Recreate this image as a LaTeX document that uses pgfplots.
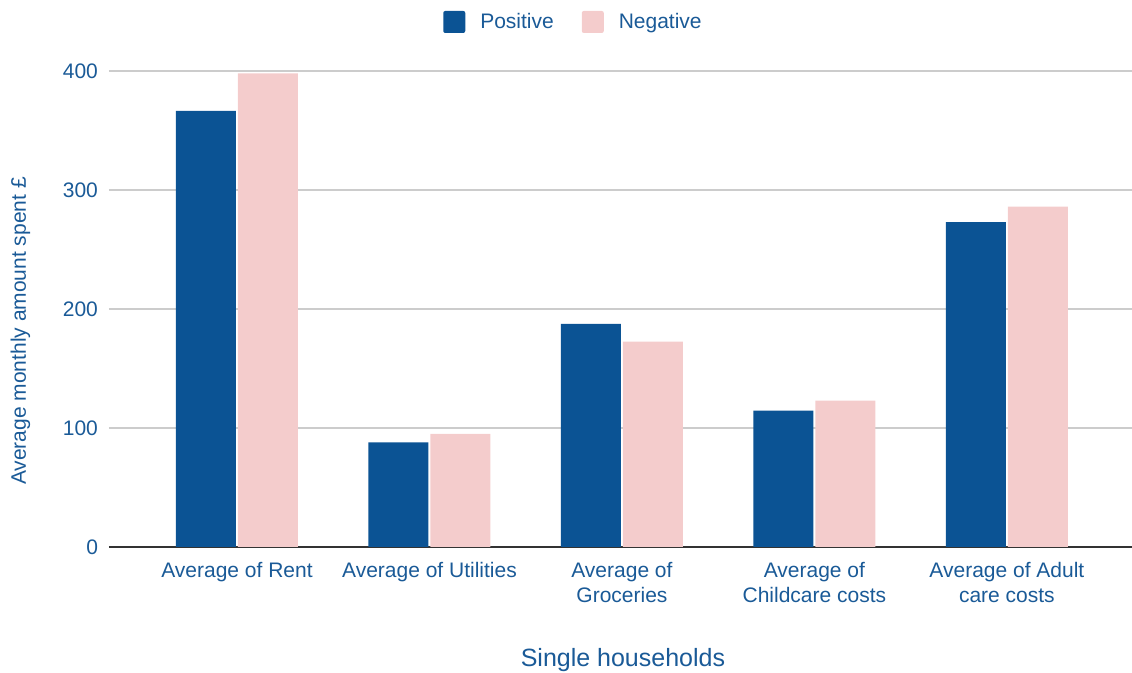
\documentclass[border=0pt]{standalone}
\usepackage{fontspec}
\setmainfont{Liberation Sans}
\usepackage{pgfplots}
\pgfplotsset{compat=1.18}

\definecolor{posblue}{HTML}{0B5394}
\definecolor{negpink}{HTML}{F4CCCC}
\definecolor{txtblue}{HTML}{1A5A97}
\definecolor{gridgrey}{HTML}{CCCCCC}
\definecolor{basegrey}{HTML}{333333}

\begin{document}
\begin{tikzpicture}
\useasboundingbox (0,0) rectangle (566pt,336.5pt);
\begin{axis}[
  at={(54.5pt,63pt)}, anchor=south west,
  scale only axis, width=511.5pt, height=238pt,
  ybar, bar width=30pt,
  xmin=-0.665, xmax=4.65, ymin=0, ymax=400,
  xtick={0,1,2,3,4},
  xticklabels={Average of Rent, Average of Utilities, {Average of\\Groceries}, {Average of\\Childcare costs}, {Average of Adult\\care costs}},
  xticklabel style={align=center, font=\fontsize{10.5}{12.5}\selectfont, text=txtblue, yshift=-4pt},
  ytick={100,200,300,400},
  extra y ticks={0},
  extra y tick style={grid style={basegrey, line width=1pt}},
  yticklabel style={font=\fontsize{10.5}{12.5}\selectfont, text=txtblue, xshift=-2pt},
  /pgf/number format/assume math mode=true,
  ymajorgrids, grid style={gridgrey, line width=0.75pt},
  major tick length=0pt,
  axis line style={draw=none},
  xlabel={Single households},
  xlabel style={at={(axis description cs:0.5024,-0.2375)}, anchor=center, font=\fontsize{12.5}{15}\selectfont, text=txtblue},
  ylabel={Average monthly amount spent £},
  ylabel style={at={(axis description cs:-0.0865,0.4538)}, anchor=center, rotate=0, font=\fontsize{10.5}{12.5}\selectfont, text=txtblue},
  legend columns=2,
  legend style={at={(axis description cs:0.455,1.103)}, anchor=center, draw=none, fill=none,
    font=\fontsize{10.5}{12.5}\selectfont, text=txtblue,
    /tikz/every odd column/.append style={column sep=5.5pt},
    /tikz/every even column/.append style={column sep=12pt}},
  legend image code/.code={\fill[#1, draw=none, rounded corners=1pt] (0pt,-5.5pt) rectangle (11pt,5.5pt);},
  legend cell align=left,
]
\addplot[fill=posblue, draw=none, bar shift=-15.5pt] coordinates {(0,366.4) (1,88) (2,187.4) (3,114.5) (4,272.9)};
\addplot[fill=negpink, draw=none, bar shift=15.5pt] coordinates {(0,398) (1,95) (2,172.5) (3,123) (4,286)};
\legend{Positive, Negative}
\end{axis}
\end{tikzpicture}
\end{document}
